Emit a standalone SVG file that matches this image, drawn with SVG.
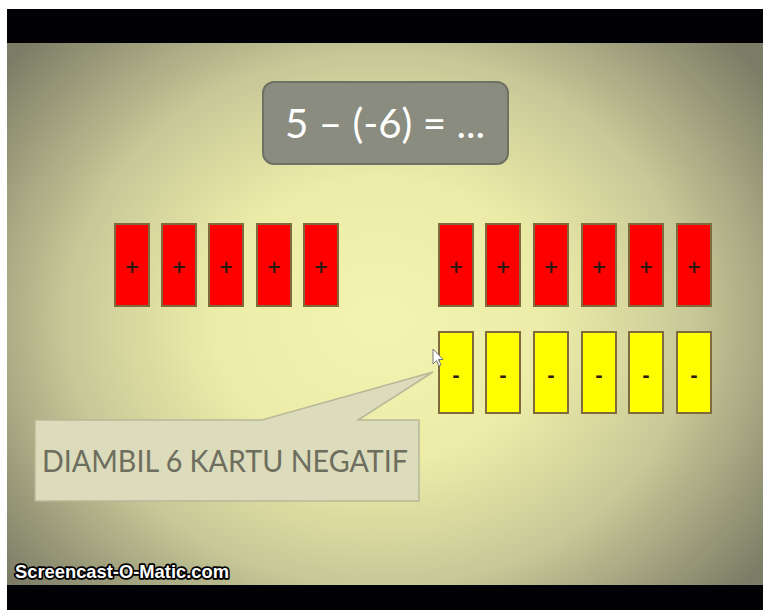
<svg xmlns="http://www.w3.org/2000/svg" width="763" height="610" viewBox="0 0 763 610">
<defs>
<radialGradient id="bg" cx="380" cy="320" r="480" gradientUnits="userSpaceOnUse" gradientTransform="translate(380 320) scale(1 0.85) translate(-380 -320)">
<stop offset="0" stop-color="#f4f4b2"/>
<stop offset="0.35" stop-color="#ececa8"/>
<stop offset="0.65" stop-color="#c8c898"/>
<stop offset="1" stop-color="#7c7c66"/>
</radialGradient>
<style>
.red{fill:#ff0000;stroke:#7e6a3c;stroke-width:2}
.yel{fill:#ffff00;stroke:#7e6a3c;stroke-width:2}
.sign{font-family:"DejaVu Sans",sans-serif;font-size:18px;font-weight:bold;fill:#2a1a10;text-anchor:middle}
</style>
</defs>
<rect x="0" y="0" width="763" height="610" fill="#ffffff"/>
<rect x="7" y="9" width="756" height="34" fill="#020206"/>
<rect x="7" y="43" width="756" height="542" fill="url(#bg)"/>
<rect x="7" y="585" width="756" height="25" fill="#020206"/>

<g id="formula">
<rect x="263" y="82" width="245" height="82" rx="11" fill="#8a8c80" stroke="#6f7262" stroke-width="2"/>
<text x="385" y="138" font-family="Lato, 'Open Sans', sans-serif" font-size="40" fill="#ffffff" text-anchor="middle" textLength="200" lengthAdjust="spacingAndGlyphs">5 – (-6) = ...</text>
</g>

<g id="pos-left">
<rect class="red" x="115" y="224" width="34" height="82"/><text class="sign" x="132" y="273">+</text>
<rect class="red" x="162" y="224" width="34" height="82"/><text class="sign" x="179" y="273">+</text>
<rect class="red" x="209" y="224" width="34" height="82"/><text class="sign" x="226" y="273">+</text>
<rect class="red" x="257" y="224" width="34" height="82"/><text class="sign" x="274" y="273">+</text>
<rect class="red" x="304" y="224" width="34" height="82"/><text class="sign" x="321" y="273">+</text>
</g>

<g id="pos-right">
<rect class="red" x="439" y="224" width="34" height="82"/><text class="sign" x="456" y="273">+</text>
<rect class="red" x="486" y="224" width="34" height="82"/><text class="sign" x="503" y="273">+</text>
<rect class="red" x="534" y="224" width="34" height="82"/><text class="sign" x="551" y="273">+</text>
<rect class="red" x="582" y="224" width="34" height="82"/><text class="sign" x="599" y="273">+</text>
<rect class="red" x="629" y="224" width="34" height="82"/><text class="sign" x="646" y="273">+</text>
<rect class="red" x="677" y="224" width="34" height="82"/><text class="sign" x="694" y="273">+</text>
</g>

<g id="neg-right">
<rect class="yel" x="439" y="332" width="34" height="81"/><text class="sign" x="456" y="382">-</text>
<rect class="yel" x="486" y="332" width="34" height="81"/><text class="sign" x="503" y="382">-</text>
<rect class="yel" x="534" y="332" width="34" height="81"/><text class="sign" x="551" y="382">-</text>
<rect class="yel" x="582" y="332" width="34" height="81"/><text class="sign" x="599" y="382">-</text>
<rect class="yel" x="629" y="332" width="34" height="81"/><text class="sign" x="646" y="382">-</text>
<rect class="yel" x="677" y="332" width="34" height="81"/><text class="sign" x="694" y="382">-</text>
</g>

<g id="callout">
<path d="M35,420 H262 L433,372 L358,420 H419 V501 H35 Z" fill="#dcdcbc" stroke="#b8b898" stroke-width="1.5"/>
<text x="42" y="472" font-family="Lato, 'Open Sans', sans-serif" font-size="30" fill="#6e6e5e" textLength="366" lengthAdjust="spacingAndGlyphs">DIAMBIL 6 KARTU NEGATIF</text>
</g>

<g id="cursor">
<path d="M433,349 L433,364 L436.5,360.5 L439,366 L441,365 L438.5,359.5 L443,359.5 Z" fill="#ffffff" stroke="#777777" stroke-width="1"/>
</g>

<text x="15" y="578" font-family="'Liberation Sans', Arial, sans-serif" font-size="19" font-weight="bold" fill="#ffffff" stroke="#000000" stroke-width="3.5" stroke-linejoin="round" paint-order="stroke" textLength="214" lengthAdjust="spacingAndGlyphs">Screencast-O-Matic.com</text>
</svg>
